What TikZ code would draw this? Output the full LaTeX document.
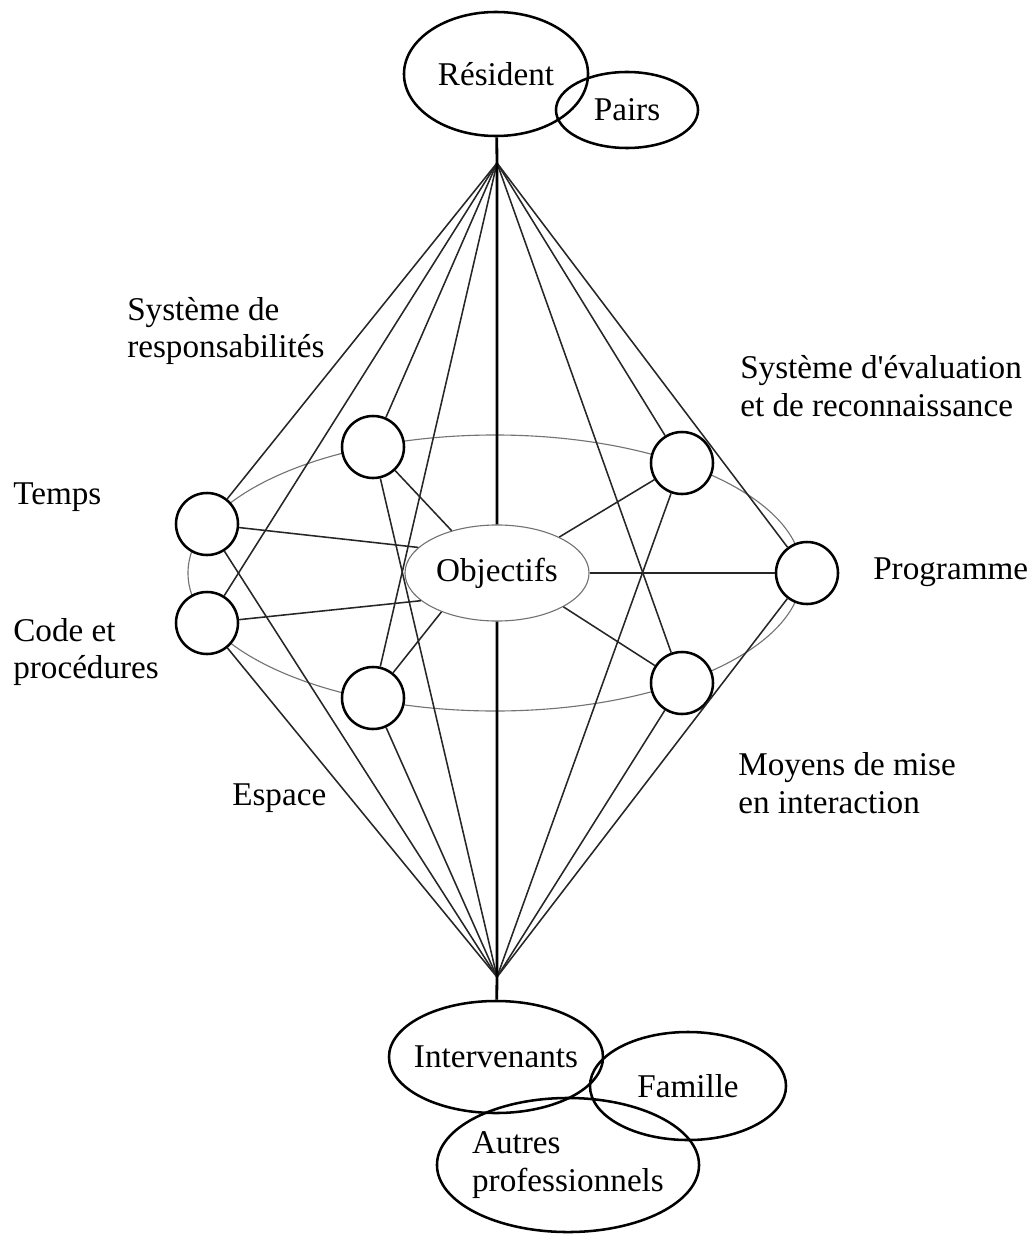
\documentclass[tikz,border=0pt]{standalone}
\usepackage{fontspec}
\setmainfont{Liberation Serif}
\usetikzlibrary{shapes.geometric, backgrounds}
\tikzset{
  ring/.style={circle, draw, line width=1.8pt, fill=white, minimum size=1.55cm, inner sep=0pt},
  blob/.style={ellipse, draw, line width=1.8pt, inner sep=0pt},
  goal/.style={ellipse, draw=black!55, line width=0.8pt, inner sep=0pt, minimum width=4.6cm, minimum height=2.4cm},
  link/.style={line width=1.1pt, black!85},
  spine/.style={line width=2pt},
  lbl/.style={anchor=west, align=left, inner sep=0pt}
}

\begin{document}
\begin{tikzpicture}[x=0.025cm, y=-0.025cm, every node/.style={font=\fontsize{23.6}{27}\selectfont}]
\useasboundingbox (0,0) rectangle (1032,1234);

% Top: resident and peers
\node[blob, minimum width=4.6cm, minimum height=3.1cm] (resident) at (496,74) {Résident};
\node[blob, minimum width=3.55cm, minimum height=1.9cm] (pairs) at (627,110) {Pairs};

% Bottom: actors around the resident
\node[blob, minimum width=5.35cm, minimum height=2.8cm] (interv) at (496,1057) {\makebox[0pt]{Intervenants}};
\node[blob, minimum width=4.9cm, minimum height=2.7cm] (famille) at (688,1086) {Famille};
\node[blob, minimum width=6.55cm, minimum height=3.35cm] (autres) at (568,1165) {\makebox[0pt]{\begin{tabular}{@{}l@{}}Autres\\professionnels\end{tabular}}};

\coordinate (top) at (497,163);
\coordinate (bot) at (497,977);

% Objectives in the middle
\node[goal] (objectifs) at (497,573) {Objectifs};

% Components of the milieu
\node[ring] (temps) at (207,524) {};
\node[ring] (code) at (207,623) {};
\node[ring] (resp) at (373,447) {};
\node[ring] (espace) at (373,698) {};
\node[ring] (eval) at (682,463) {};
\node[ring] (moyens) at (682,683) {};
\node[ring] (prog) at (807,573) {};

\begin{scope}[on background layer]
  \draw[black!55, line width=0.8pt] (495,573) ellipse [x radius=307, y radius=138];
\end{scope}

% Links
\foreach \c in {temps,code,resp,espace,eval,moyens,prog} {
  \draw[link] (top) -- (\c);
  \draw[link] (bot) -- (\c);
}
\foreach \c/\a in {temps/162, code/200, resp/137, espace/215, eval/30, moyens/333, prog/0} {
  \draw[link] (objectifs.\a) -- (\c);
}

% Central axis
\draw[spine] (resident) -- (top) -- (objectifs);
\draw[spine] (objectifs) -- (bot) -- (interv);

% Labels
\node[lbl] (resplbl) at (127,331) {Système de\\responsabilités};
\node[lbl] (tempslbl) at (13,497) {Temps};
\node[lbl] (codelbl) at (13,652) {Code et\\procédures};
\node[lbl] (espacelbl) at (232,798) {Espace};
\node[lbl] (evallbl) at (740,386) {Système d\textquotesingle évaluation\\et de reconnaissance};
\node[lbl] (proglbl) at (873,572) {Programme};
\node[lbl] (moyenslbl) at (738,783) {Moyens de mise\\en interaction};

\end{tikzpicture}
\end{document}
